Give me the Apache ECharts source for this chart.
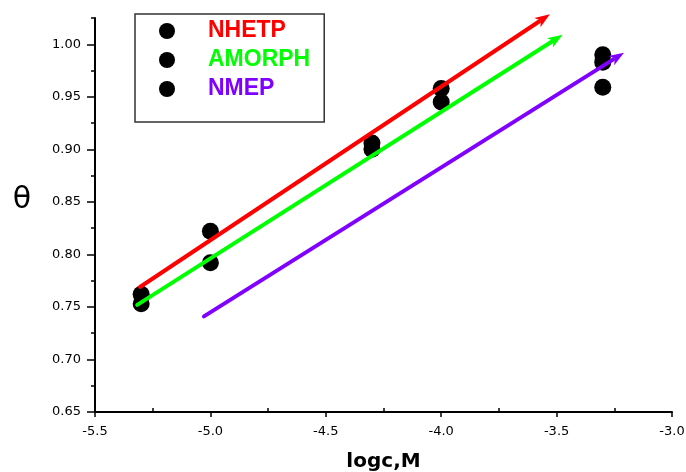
<!DOCTYPE html>
<html>
<head>
<meta charset="utf-8">
<script src="https://cdn.jsdelivr.net/npm/echarts@6/dist/echarts.min.js"></script>
<style>
html,body{margin:0;padding:0;background:#fff;}
#c{width:686px;height:472px;}
</style>
</head>
<body>
<div id="c"></div>
<script>
// ---- data ----
const seriesNames = ['NHETP', 'AMORPH', 'NMEP'];
const nhetpPoints = [[-5.3, 0.762], [-5.0, 0.822], [-4.3, 0.906], [-4.0, 0.958], [-3.3, 0.990]];
const amorphPoints = [[-5.3, 0.753], [-5.0, 0.792], [-4.3, 0.900], [-4.0, 0.945], [-3.3, 0.983]];
const nmepPoints = [[-3.3, 0.959]];
// fitted arrow lines: [start, tip]
const nhetpLine = [[-5.305, 0.769], [-3.529, 1.0285]];
const amorphLine = [[-5.317, 0.752], [-3.474, 1.009]];
const nmepLine = [[-5.028, 0.741], [-3.208, 0.992]];
const xTicks = [-5.5, -5.0, -4.5, -4.0, -3.5, -3.0];
const xMinorTicks = [-5.25, -4.75, -4.25, -3.75, -3.25];
const yTicks = [0.65, 0.70, 0.75, 0.80, 0.85, 0.90, 0.95, 1.00];
const yMinorTicks = [0.675, 0.725, 0.775, 0.825, 0.875, 0.925, 0.975, 1.025];
const lineColors = ['#ff0000', '#00ff00', '#8000ff'];

const chart = echarts.init(document.getElementById('c'), null, {renderer: 'canvas'});
const X_MIN = -5.5, X_MAX = -3.0, Y_MIN = 0.65, Y_MAX = 1.025;
const tickFont = {fontFamily: 'DejaVu Sans', fontSize: 13, color: '#000'};

function scatterSeries(name, pts) {
  return {
    name: name,
    type: 'scatter',
    data: pts,
    symbol: 'circle',
    symbolSize: 17,
    itemStyle: {color: '#000', opacity: 1},
    emphasis: {disabled: true},
    clip: false,
    z: 3
  };
}

function arrowSeries(line, color) {
  return {
    type: 'custom',
    coordinateSystem: 'cartesian2d',
    silent: true,
    clip: false,
    z: 4,
    data: [[line[0][0], line[0][1], line[1][0], line[1][1]]],
    renderItem: function (params, api) {
      const p1 = api.coord([api.value(0), api.value(1)]);
      const p2 = api.coord([api.value(2), api.value(3)]);
      const dx = p2[0] - p1[0], dy = p2[1] - p1[1];
      const len = Math.sqrt(dx * dx + dy * dy);
      const ux = dx / len, uy = dy / len;
      const L = 15, W = 5.5;
      const bx = p2[0] - ux * L, by = p2[1] - uy * L;
      const nx = -uy, ny = ux;
      return {
        type: 'group',
        children: [{
          type: 'line',
          shape: {x1: p1[0], y1: p1[1], x2: bx + ux * 2, y2: by + uy * 2},
          style: {stroke: color, lineWidth: 4, lineCap: 'round'}
        }, {
          type: 'polygon',
          shape: {points: [[p2[0], p2[1]], [bx + nx * W, by + ny * W], [bx + ux * 4, by + uy * 4], [bx - nx * W, by - ny * W]]},
          style: {fill: color}
        }]
      };
    }
  };
}

chart.setOption({
  animation: false,
  backgroundColor: '#fff',
  grid: {left: 95, right: 14, top: 18, bottom: 60, containLabel: false, outerBoundsMode: 'none'},
  legend: {
    left: 135, top: 14,
    orient: 'vertical',
    borderColor: '#333', borderWidth: 1.5,
    padding: [5, 14, 21, 24],
    itemGap: 5,
    itemWidth: 16, itemHeight: 16,
    icon: 'circle',
    textStyle: {fontFamily: 'Liberation Sans', fontWeight: 'bold', fontSize: 23, lineHeight: 24, padding: [0, 0, 0, 28]},
    data: seriesNames.map((n, i) => ({name: n, itemStyle: {color: '#000', opacity: 1}, textStyle: {color: lineColors[i]}}))
  },
  xAxis: [{
    type: 'value', min: X_MIN, max: X_MAX, interval: 0.5,
    name: 'logc,M', nameLocation: 'middle', nameGap: 40,
    nameTextStyle: {fontFamily: 'DejaVu Sans', fontWeight: 'bold', fontSize: 20, color: '#000'},
    axisLine: {show: true, onZero: false, lineStyle: {color: '#000', width: 2}},
    axisTick: {show: true, length: 5, customValues: xTicks, lineStyle: {color: '#000', width: 1.5}},
    axisLabel: {show: true, margin: 13, customValues: xTicks, formatter: v => v.toFixed(1), ...tickFont},
    splitLine: {show: false}
  }, {
    type: 'value', min: X_MIN, max: X_MAX, position: 'bottom',
    axisLine: {show: false},
    axisTick: {show: true, inside: true, length: 4, customValues: xMinorTicks, lineStyle: {color: '#000', width: 1.5}},
    axisLabel: {show: false},
    splitLine: {show: false}
  }],
  yAxis: [{
    type: 'value', min: Y_MIN, max: Y_MAX,
    name: 'θ', nameLocation: 'middle', nameRotate: 0, nameGap: 64,
    nameTextStyle: {fontFamily: 'DejaVu Sans', fontSize: 30, color: '#000', verticalAlign: 'bottom'},
    axisLine: {show: true, onZero: false, lineStyle: {color: '#000', width: 2}},
    axisTick: {show: true, length: 8, customValues: yTicks, lineStyle: {color: '#000', width: 1.5}},
    axisLabel: {show: true, margin: 14, customValues: yTicks, formatter: v => v.toFixed(2), ...tickFont},
    splitLine: {show: false}
  }, {
    type: 'value', min: Y_MIN, max: Y_MAX, position: 'left', offset: 0,
    axisLine: {show: false},
    axisTick: {show: true, length: 4, customValues: yMinorTicks, lineStyle: {color: '#000', width: 1.5}},
    axisLabel: {show: false},
    splitLine: {show: false}
  }],
  series: [
    scatterSeries(seriesNames[0], nhetpPoints),
    scatterSeries(seriesNames[1], amorphPoints),
    scatterSeries(seriesNames[2], nmepPoints),
    arrowSeries(nhetpLine, lineColors[0]),
    arrowSeries(amorphLine, lineColors[1]),
    arrowSeries(nmepLine, lineColors[2])
  ]
});
</script>
</body>
</html>
